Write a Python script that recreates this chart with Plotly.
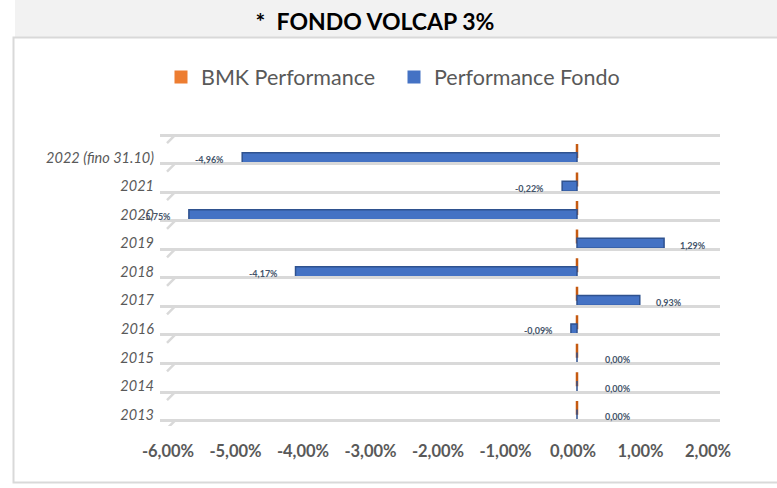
import plotly.graph_objects as go

# ---- data ----
categories = ["2013", "2014", "2015", "2016", "2017", "2018", "2019", "2020", "2021", "2022 (fino 31.10)"]
performance_fondo = [0.00, 0.00, 0.00, -0.09, 0.93, -4.17, 1.29, -5.75, -0.22, -4.96]
bmk_performance = [0.00, 0.00, 0.00, 0.00, 0.00, 0.00, 0.00, 0.00, 0.00, 0.00]
x_tick_values = [-6, -5, -4, -3, -2, -1, 0, 1, 2]
series_names = ["BMK Performance", "Performance Fondo"]
title_text = "*  FONDO VOLCAP 3%"


def pct_it(v):
    return f"{v:.2f}".replace(".", ",") + "%"


x_tick_text = [pct_it(v) for v in x_tick_values]

# ---- styling ----
W, H = 777, 488
FONT = "Lato"
ORANGE, ORANGE_EDGE = "#ed7d31", "#c55a11"
BLUE, BLUE_EDGE = "#4472c4", "#2f528f"
GRID = "#d9d9d9"


def fx(p):
    return p / W


def fy(p):
    return 1 - p / H


pos = list(range(len(categories)))
grid_shift = 0.21
grid_vals = [k - grid_shift for k in range(len(categories) + 1)]

fig = go.Figure()

fig.add_trace(go.Bar(
    y=pos, x=bmk_performance, orientation="h", width=0.49, offset=-0.01,
    marker=dict(color=ORANGE, line=dict(color=ORANGE_EDGE, width=2.5)),
    showlegend=False, hoverinfo="skip", name=series_names[0]))
fig.add_trace(go.Bar(
    y=pos, x=performance_fondo, orientation="h", width=0.35, offset=-0.175,
    marker=dict(color=BLUE, line=dict(color=BLUE_EDGE, width=1.5)),
    showlegend=False, name=series_names[1]))

# legend entries (flat colour squares)
for nm, col in zip(series_names, [ORANGE, BLUE]):
    fig.add_trace(go.Scatter(x=[None], y=[None], mode="markers", name=nm,
                             marker=dict(symbol="square", size=13, color=col, line=dict(width=0))))

# helper trace to carry the tick-label axis
fig.add_trace(go.Scatter(x=x_tick_values, y=[pos[0]] * len(x_tick_values), xaxis="x2", yaxis="y",
                         mode="markers", marker=dict(opacity=0), showlegend=False, hoverinfo="skip"))

# data labels
for v, p in zip(performance_fondo, pos):
    if v < 0:
        xa, xs = "right", -16
    elif v == 0:
        xa, xs = "left", 26
    else:
        xa, xs = "left", 14
    fig.add_annotation(x=v, y=p, xref="x", yref="y", text=pct_it(v), showarrow=False,
                       xanchor=xa, xshift=xs, yshift=-2,
                       font=dict(family=FONT, size=9, color="#44546a", weight="bold"))

# background band, chart border, 3-D floor slants of grid lines
shapes = [
    dict(type="rect", xref="paper", yref="paper", x0=fx(15), x1=1.0, y0=fy(37), y1=1.0,
         fillcolor="#f2f2f2", line=dict(width=0), layer="below"),
    dict(type="rect", xref="paper", yref="paper", x0=fx(13.5), x1=1.05, y0=fy(482.5), y1=fy(37.5),
         fillcolor="rgba(0,0,0,0)", line=dict(color=GRID, width=2), layer="below"),
]
for g in grid_vals:
    shapes.append(dict(type="line", xref="paper", yref="y", x0=fx(167), x1=fx(175),
                       y0=g - 8 / 28.54, y1=g, line=dict(color=GRID, width=2.5), layer="below"))

x_px_per_unit = 67.5
zero_px = 577
x1_range = [(175 - zero_px) / x_px_per_unit, (718 - zero_px) / x_px_per_unit]
x2_range = [x_tick_values[0] - 8 / x_px_per_unit, x_tick_values[-1] + 12 / x_px_per_unit]

fig.update_layout(
    template="none",
    width=W, height=H,
    margin=dict(l=0, r=0, t=0, b=0, pad=0, autoexpand=False),
    paper_bgcolor="white", plot_bgcolor="rgba(0,0,0,0)",
    barmode="overlay",
    shapes=shapes,
    title=dict(text=title_text, x=fx(375), xanchor="center", y=fy(22), yanchor="middle",
               yref="container", xref="container",
               font=dict(family=FONT, size=23, color="black", weight="bold")),
    legend=dict(orientation="h", x=fx(161), xanchor="left", y=fy(77), yanchor="middle",
                font=dict(family=FONT, size=21.5, color="#595959"), bgcolor="rgba(0,0,0,0)",
                traceorder="normal", entrywidth=188, entrywidthmode="pixels"),
    xaxis=dict(domain=[fx(175), fx(718)], range=x1_range, showgrid=False, zeroline=False,
               showline=False, showticklabels=False, ticks="", anchor="y", automargin=False),
    xaxis2=dict(domain=[fx(160), fx(720)], range=x2_range, anchor="y", tickvals=x_tick_values,
                ticktext=x_tick_text, showgrid=False, zeroline=False, showline=False, ticks="",
                ticklabelstandoff=13, automargin=False,
                tickfont=dict(family=FONT, size=16.5, color="#595959", weight="bold")),
    yaxis=dict(domain=[fy(426), fy(132)], range=[-0.4, 9.9], tickvals=pos, ticktext=categories,
               showgrid=False, zeroline=False, showline=False, ticks="", ticklabelstandoff=20,
               automargin=False,
               tickfont=dict(family=FONT, size=14.5, color="#595959", style="italic"),
               minor=dict(tickvals=grid_vals, showgrid=True, gridcolor=GRID, gridwidth=3, ticks="")),
)

fig.write_html("out.html", post_script="document.body.style.margin='0px';",
               config={"displayModeBar": False})
